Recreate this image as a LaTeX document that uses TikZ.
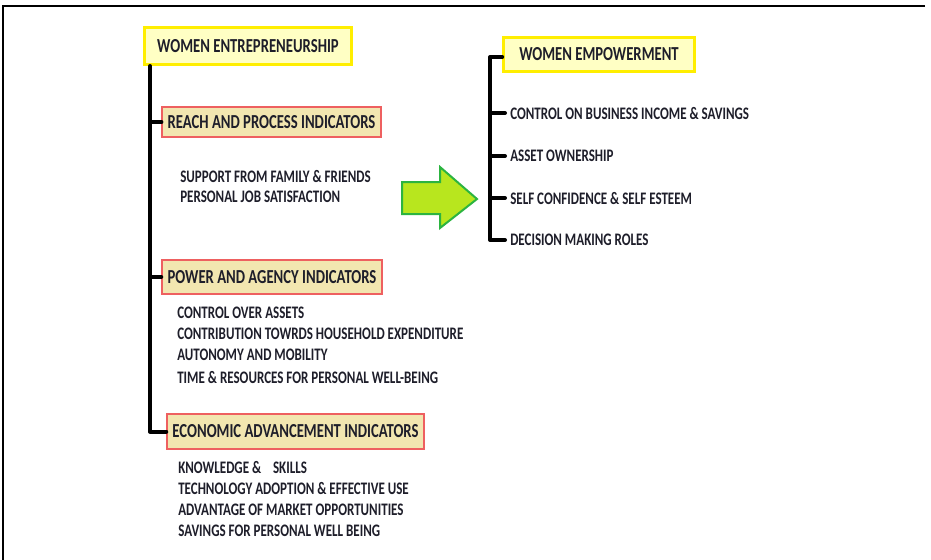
\documentclass[tikz,border=0pt]{standalone}
\usepackage{fontspec}
\setmainfont{Carlito}[FakeStretch=0.74]
\usetikzlibrary{calc}
\definecolor{ink}{RGB}{30,30,42}
\definecolor{mainedge}{RGB}{255,238,0}
\definecolor{mainfill}{RGB}{255,255,196}
\definecolor{subedge}{RGB}{238,96,96}
\definecolor{subfill}{RGB}{242,230,176}
\definecolor{arrowfill}{RGB}{184,230,30}
\definecolor{arrowedge}{RGB}{44,180,64}
\begin{document}
\begin{tikzpicture}[x=0.75pt,y=-0.75pt,
  every node/.style={text=ink},
  titlebox/.style={draw=mainedge, line width=2.2pt, fill=mainfill, inner sep=0pt,
    font=\bfseries\fontsize{14.9}{17}\selectfont},
  groupbox/.style={draw=subedge, line width=1.1pt, fill=subfill, inner sep=0pt,
    font=\bfseries\fontsize{14.9}{17}\selectfont},
  itemtext/.style={anchor=west, inner sep=0pt, font=\bfseries\fontsize{13.2}{15}\selectfont},
  outcome/.style={anchor=west, inner xsep=3.75pt, inner ysep=0pt, font=\bfseries\fontsize{13.2}{15}\selectfont},
  spine/.style={line width=3pt, black, line cap=round, line join=round}]
\useasboundingbox (0,0) rectangle (931,560);

% outer frame (top and left edges)
\draw[line width=1.2pt] (925,6) -- (3,6) -- (3,560);

% left tree: entrepreneurship and its indicator groups
\node[titlebox, minimum width=155pt, minimum height=27.75pt] (ent) at (248,46) {WOMEN ENTREPRENEURSHIP};
\node[groupbox, minimum width=164pt, minimum height=22.5pt] (reach) at (271.5,122) {REACH AND PROCESS INDICATORS};
\node[groupbox, minimum width=165pt, minimum height=25.5pt] (power) at (272,277) {POWER AND AGENCY INDICATORS};
\node[groupbox, minimum width=192.75pt, minimum height=26.25pt] (econ) at (295.5,431.5) {ECONOMIC ADVANCEMENT INDICATORS};

\node[itemtext] (r1) at (180,176) {SUPPORT FROM FAMILY \& FRIENDS};
\node[itemtext] (r2) at (180,197) {PERSONAL JOB SATISFACTION};

\node[itemtext] (p1) at (177,313) {CONTROL OVER ASSETS};
\node[itemtext] (p2) at (177,334) {CONTRIBUTION TOWRDS HOUSEHOLD EXPENDITURE};
\node[itemtext] (p3) at (177,355) {AUTONOMY AND MOBILITY};
\node[itemtext] (p4) at (177,377) {TIME \& RESOURCES FOR PERSONAL WELL-BEING};

\node[itemtext] (e1) at (178,467) {KNOWLEDGE \&\ \ \ \ SKILLS};
\node[itemtext] (e2) at (178,488) {TECHNOLOGY ADOPTION \& EFFECTIVE USE};
\node[itemtext] (e3) at (178,510) {ADVANTAGE OF MARKET OPPORTUNITIES};
\node[itemtext] (e4) at (178,531) {SAVINGS FOR PERSONAL WELL BEING};

\coordinate (ltop) at (150,66);
\draw[spine] (ltop) -- (ltop |- econ.west) -- (econ.west);
\draw[spine] (ltop |- reach.west) -- (reach.west);
\draw[spine] (ltop |- power.west) -- (power.west);

% transition arrow
\draw[line width=1.5pt, draw=arrowedge, fill=arrowfill, line join=miter]
  (402,182) -- (440,182) -- (440,167) -- (477,199) -- (440,228) -- (440,214) -- (402,214) -- cycle;

% right tree: empowerment outcomes
\node[titlebox, minimum width=143pt, minimum height=25.5pt] (emp) at (599,54.5) {WOMEN EMPOWERMENT};
\node[outcome] (o1) at (505,113) {CONTROL ON BUSINESS INCOME \& SAVINGS};
\node[outcome] (o2) at (505,156) {ASSET OWNERSHIP};
\node[outcome] (o3) at (505,198) {SELF CONFIDENCE \& SELF ESTEEM};
\node[outcome] (o4) at (505,240) {DECISION MAKING ROLES};

\coordinate (rtop) at (490,57);
\draw[spine] (emp.west |- rtop) -- (rtop) -- (rtop |- o4.west) -- (o4.west);
\draw[spine] (rtop |- o1.west) -- (o1.west);
\draw[spine] (rtop |- o2.west) -- (o2.west);
\draw[spine] (rtop |- o3.west) -- (o3.west);
\end{tikzpicture}
\end{document}
